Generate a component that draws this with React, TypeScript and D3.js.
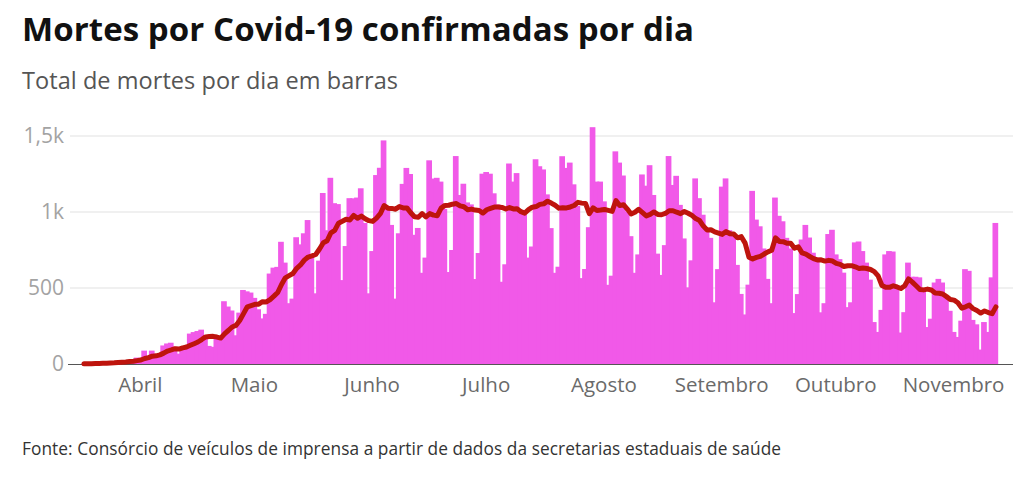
import React from "react";
import * as d3 from "d3";

// Daily confirmed Covid-19 deaths in Brazil, from 2020-03-17 to 2020-11-12
const START = "2020-03-17";
const deaths: number[] = [
  1, 3, 3, 4, 7, 7, 9, 12, 13, 18, 15, 19, 25, 23, 42,
  40, 88, 55, 88, 41, 67, 122, 135, 140, 113, 68, 100, 105, 200, 210,
  217, 226, 189, 119, 113, 166, 165, 413, 378, 352, 189, 338, 487, 478, 470,
  435, 360, 300, 330, 595, 634, 639, 804, 667, 400, 430, 834, 787, 860, 947,
  721, 465, 680, 1125, 880, 1225, 1058, 1052, 552, 776, 1091, 1090, 1095, 1156, 928,
  465, 743, 1243, 1291, 1471, 1037, 915, 430, 860, 1185, 1290, 1250, 850, 895, 600,
  700, 1340, 1220, 1225, 1200, 1020, 605, 750, 1368, 1112, 1186, 1063, 1050, 559, 730,
  1252, 1263, 1252, 1123, 1050, 541, 656, 1319, 1200, 1256, 993, 982, 700, 773, 1347,
  1301, 1280, 1116, 894, 600, 640, 1367, 1290, 1325, 1182, 1040, 565, 625, 900, 1558,
  1200, 1200, 1070, 521, 581, 1399, 1325, 1240, 1000, 841, 600, 721, 1247, 1173, 1308,
  1112, 726, 586, 782, 1368, 1178, 1238, 1047, 826, 504, 682, 1221, 1091, 982, 870,
  830, 406, 624, 1167, 1221, 880, 860, 652, 461, 326, 522, 1139, 950, 906, 760,
  560, 400, 1095, 975, 939, 830, 760, 335, 460, 819, 915, 832, 732, 700, 340,
  400, 855, 883, 721, 690, 601, 374, 406, 800, 806, 743, 667, 555, 276, 211,
  356, 721, 743, 740, 500, 207, 341, 667, 574, 574, 570, 480, 243, 298, 536,
  560, 536, 450, 350, 211, 178, 285, 624, 613, 290, 261, 95, 276, 211, 570,
  928,
];

const yTicks: number[] = [0, 500, 1000, 1500];
const yTickLabels: string[] = ["0", "500", "1k", "1,5k"];
const monthLabels: string[] = ["Abril", "Maio", "Junho", "Julho", "Agosto", "Setembro", "Outubro", "Novembro"];
const monthStarts: string[] = ["2020-04-01", "2020-05-01", "2020-06-01", "2020-07-01", "2020-08-01", "2020-09-01", "2020-10-01", "2020-11-01"];

const TITLE = "Mortes por Covid-19 confirmadas por dia";
const SUBTITLE = "Total de mortes por dia em barras";
const SOURCE = "Fonte: Consórcio de veículos de imprensa a partir de dados da secretarias estaduais de saúde";

const FONT = "'Open Sans', 'Noto Sans', sans-serif";

export default function App() {
  const W = 1024;
  const H = 477;
  const start = new Date(START + "T00:00:00Z");
  const dates = deaths.map((_, i) => d3.utcDay.offset(start, i));
  const plotLeft = 80.5;
  const dayW = 3.8;
  const x = d3
    .scaleUtc()
    .domain([start, d3.utcDay.offset(start, deaths.length)])
    .range([plotLeft, plotLeft + deaths.length * dayW]);
  const y = d3.scaleLinear().domain([0, 1500]).range([364, 136]);
  const step = x(dates[1]) - x(dates[0]);
  const barW = step * 1.5;

  const avg = deaths.map((_, i) => {
    const s = deaths.slice(Math.max(0, i - 6), i + 1);
    return d3.mean(s) as number;
  });

  const line = d3
    .line<number>()
    .x((_, i) => x(dates[i]) + step * 0.9)
    .y((d) => y(d))
    .curve(d3.curveLinear);

  const gridX1 = 70;
  const gridX2 = 1013;

  return (
    <svg
      width={W}
      height={H}
      viewBox={`0 0 ${W} ${H}`}
      style={{ position: "absolute", left: 0, top: 0, background: "#fff", fontFamily: FONT }}
    >
      <rect x={0} y={0} width={W} height={H} fill="#fff" />
      <text x={22} y={41} fontSize={33} fontWeight={700} fill="#111" textLength={672} lengthAdjust="spacing">
        {TITLE}
      </text>
      <text x={22} y={89} fontSize={23.5} fill="#555" textLength={376} lengthAdjust="spacing">
        {SUBTITLE}
      </text>

      {yTicks.map((t) =>
        t === 0 ? null : (
          <line key={"g" + t} x1={gridX1} x2={gridX2} y1={y(t)} y2={y(t)} stroke="#e2e2e2" strokeWidth={1.2} />
        )
      )}
      {yTicks.map((t, i) => (
        <text
          key={"yl" + t}
          x={64}
          y={y(t) + 7}
          textAnchor="end"
          fontSize={21}
          fill="#a3a3a3"
        >
          {yTickLabels[i]}
        </text>
      ))}

      {deaths.map((v, i) => (
        <rect
          key={"b" + i}
          x={x(dates[i])}
          y={y(v)}
          width={barW}
          height={y(0) - y(v)}
          fill="#f159e8"
        />
      ))}

      <line x1={68} x2={gridX2} y1={y(0) + 0.5} y2={y(0) + 0.5} stroke="#555" strokeWidth={1.2} />

      <path
        d={line(avg) || ""}
        fill="none"
        stroke="#be140d"
        strokeWidth={5}
        strokeLinejoin="round"
        strokeLinecap="round"
      />

      {monthStarts.map((m, i) => {
        const d = new Date(m + "T00:00:00Z");
        return (
          <text
            key={"m" + m}
            x={x(d) + barW / 2}
            y={392}
            textAnchor="middle"
            fontSize={20.5}
            fill="#6a6a6a"
          >
            {monthLabels[i]}
          </text>
        );
      })}

      <text x={22} y={455} fontSize={17.3} fill="#333" textLength={759} lengthAdjust="spacing">
        {SOURCE}
      </text>
    </svg>
  );
}
